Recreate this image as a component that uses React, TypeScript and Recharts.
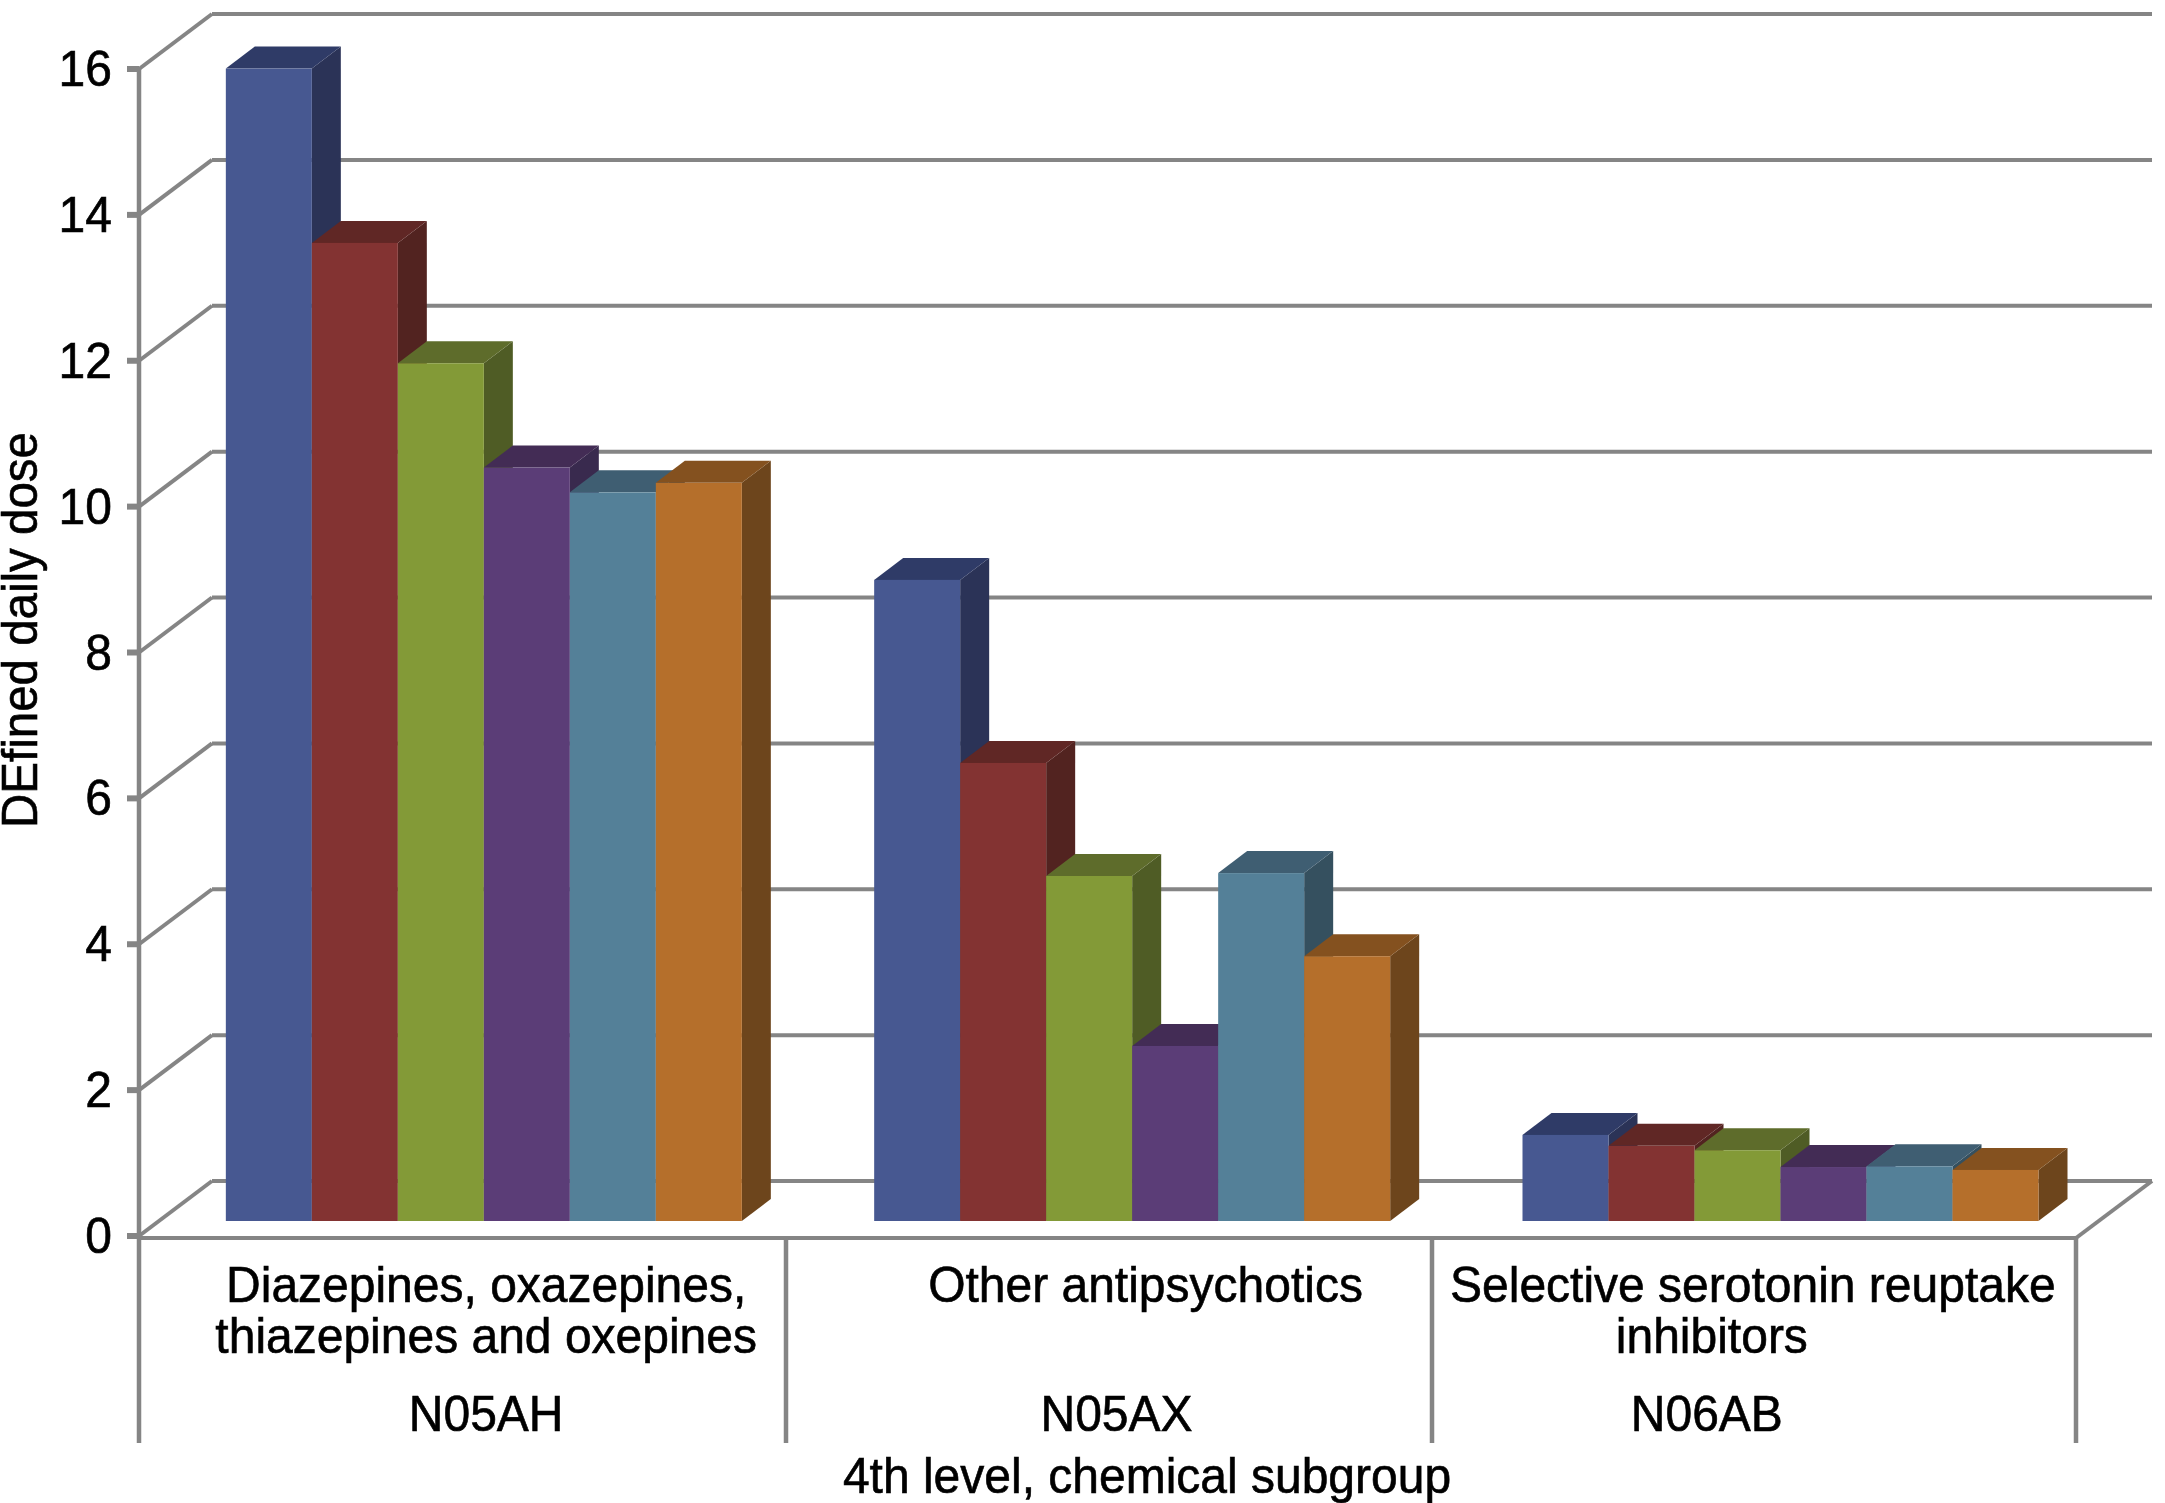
import { Bar, BarChart, CartesianGrid, XAxis, YAxis } from "recharts";

const groups = ["N05AH", "N05AX", "N06AB"];
const groupNames = [
  ["Diazepines, oxazepines,", "thiazepines and oxepines"],
  ["Other antipsychotics"],
  ["Selective serotonin reuptake", "inhibitors"],
];
const yTicks = [0, 2, 4, 6, 8, 10, 12, 14, 16];

const seriesA = [15.8, 8.79, 1.18];
const seriesB = [13.41, 6.28, 1.03];
const seriesC = [11.76, 4.73, 0.97];
const seriesD = [10.33, 2.4, 0.74];
const seriesE = [9.99, 4.77, 0.75];
const seriesF = [10.12, 3.63, 0.7];

const data = groups.map((code, i) => ({
  code,
  a: seriesA[i],
  b: seriesB[i],
  c: seriesC[i],
  d: seriesD[i],
  e: seriesE[i],
  f: seriesF[i],
}));

// front, top, side
const palette: Record<string, string[]> = {
  a: ["#475891", "#2f3b67", "#2b3357"],
  b: ["#833332", "#602725", "#522320"],
  c: ["#839a37", "#5e6c2b", "#4f5c25"],
  d: ["#5b3d77", "#432c55", "#392a4e"],
  e: ["#548098", "#3f5e72", "#35505f"],
  f: ["#b56f2b", "#84511f", "#6d451c"],
};

const FONT = "'Liberation Sans', Arial, sans-serif";
const LINE = "#858585";
const DEPTH_X = 29;
const DEPTH_Y = 22;
const AXIS_X = 139;
const WALL_X = 212;
const WALL_END = 2152;
const FLOOR_Y = 1238;
const FRAME_END = 1443;
const AXIS_DROP = 15; // y axis sits below the bar plane
const WALL_RISE = 40; // back wall sits above the bar plane

// horizontal nudges of the category text relative to the bar group centre
const nameShift = [[1, 1], [12], [-29, -70]];
const codeShift = [1, -17, -75];

// the source picture is slightly stretched upwards
function Label({ x, y, anchor = "middle", children }: any) {
  return (
    <text
      transform={`translate(${x} ${y}) scale(1 1.05)`}
      textAnchor={anchor}
      fontFamily={FONT}
      fontSize={48}
      fill="#000"
      stroke="#000"
      strokeWidth={0.6}
    >
      {children}
    </text>
  );
}

function Bar3D(props: any) {
  const { x, y, width, height, dataKey } = props;
  const [front, top, side] = palette[dataKey];
  const r = x + width;
  return (
    <g>
      <polygon
        points={`${r},${y} ${r + DEPTH_X},${y - DEPTH_Y} ${r + DEPTH_X},${y + height - DEPTH_Y} ${r},${y + height}`}
        fill={side}
      />
      <polygon
        points={`${x},${y} ${r},${y} ${r + DEPTH_X},${y - DEPTH_Y} ${x + DEPTH_X},${y - DEPTH_Y}`}
        fill={top}
      />
      <rect x={x} y={y} width={width} height={height} fill={front} />
    </g>
  );
}

function WallLine(props: any) {
  const { y1 } = props;
  return (
    <g>
      <line x1={WALL_X} y1={y1 - WALL_RISE} x2={WALL_END} y2={y1 - WALL_RISE} stroke={LINE} strokeWidth={4} />
      <line x1={AXIS_X} y1={y1 + AXIS_DROP} x2={WALL_X} y2={y1 - WALL_RISE} stroke={LINE} strokeWidth={4} />
    </g>
  );
}

function ValueTick({ y, payload }: any) {
  return (
    <g>
      <line x1={127} y1={y + AXIS_DROP} x2={AXIS_X} y2={y + AXIS_DROP} stroke={LINE} strokeWidth={6} />
      <Label x={112} y={y + AXIS_DROP + 17} anchor="end">
        {payload.value}
      </Label>
    </g>
  );
}

function GroupTick({ x, y, payload, index }: any) {
  return (
    <g>
      {groupNames[index].map((line, i) => (
        <Label key={line} x={x + nameShift[index][i]} y={y + 81 + i * 51}>
          {line}
        </Label>
      ))}
      <Label x={x + codeShift[index]} y={y + 210}>
        {payload.value}
      </Label>
    </g>
  );
}

function Frame() {
  const dividers = [786, 1432, 2076];
  return (
    <g stroke={LINE} strokeWidth={4}>
      <line x1={AXIS_X} y1={67} x2={AXIS_X} y2={FRAME_END} strokeWidth={4.5} />
      <line x1={AXIS_X} y1={FLOOR_Y} x2={2076} y2={FLOOR_Y} />
      <line x1={2076} y1={FLOOR_Y} x2={WALL_END} y2={1181} />
      {dividers.map((d) => (
        <line key={d} x1={d} y1={FLOOR_Y} x2={d} y2={FRAME_END} strokeWidth={4.5} />
      ))}
    </g>
  );
}

export default function App() {
  return (
    <div style={{ position: "absolute", left: 0, top: 0, width: 2165, height: 1503, background: "#fff" }}>
      <BarChart
        width={2165}
        height={1503}
        data={data}
        margin={{ top: 54, right: 59, bottom: 0, left: 61 }}
        barCategoryGap="10%"
        barGap={0}
      >
        <CartesianGrid vertical={false} horizontal={WallLine} />
        <XAxis dataKey="code" height={282} axisLine={false} tickLine={false} tickSize={0} tickMargin={0} interval={0} tick={GroupTick} />
        <YAxis width={100} domain={[0, 16]} ticks={yTicks} interval={0} axisLine={false} tickLine={false} tick={ValueTick} />
        <Frame />
        {Object.keys(palette).map((k) => (
          <Bar key={k} dataKey={k} shape={Bar3D} isAnimationActive={false} />
        ))}
        <text
          transform="translate(37 630) rotate(-90) scale(1 1.05)"
          textAnchor="middle"
          fontFamily={FONT}
          fontSize={47.5}
          fill="#000"
          stroke="#000"
          strokeWidth={0.6}
        >
          DEfined daily dose
        </text>
        <Label x={1147} y={1493}>
          4th level, chemical subgroup
        </Label>
      </BarChart>
    </div>
  );
}
